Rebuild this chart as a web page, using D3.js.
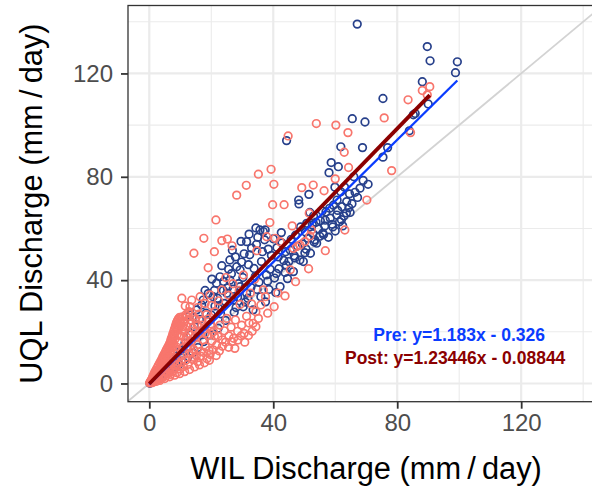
<!DOCTYPE html>
<html>
<head>
<meta charset="utf-8">
<script src="https://cdn.jsdelivr.net/npm/d3@7"></script>
<style>
  body { margin: 0; background: #fff; }
  svg { display: block; font-family: "Liberation Sans", Arial, sans-serif; }
</style>
</head>
<body>
<svg id="chart" width="592" height="489"></svg>
<script>
// pre period points (WIL, UQL)
var prePoints = [
  [0.2,0.1],[0.5,0.4],[0.9,0.6],[1.3,1.1],[1.7,1.4],[2.2,1.9],[2.6,2.6],[3.0,2.2],[3.5,3.4],[4.0,2.9],
  [4.4,4.6],[5.0,3.9],[5.4,6.0],[6.0,4.6],[6.4,7.6],[7.0,5.4],[7.5,9.0],[8.2,6.2],[8.8,10.6],[9.5,7.4],
  [10.1,12.8],[10.8,8.6],[11.5,15.6],[12.1,25.9],[12.4,10.0],[13.1,26.5],[13.3,18.8],[14.0,11.8],[14.6,22.0],[15.3,28.5],
  [15.7,13.9],[16.2,24.8],[16.9,30.4],[17.4,32.3],[17.5,16.2],[18.3,27.2],[19.0,34.8],[19.6,18.8],[20.6,33.6],[21.2,30.0],
  [21.7,38.8],[22.2,21.4],[22.8,29.7],[22.8,41.3],[23.9,36.0],[24.6,24.4],[25.0,34.9],[25.6,44.2],[26.0,40.0],[26.0,47.8],
  [27.1,32.3],[27.4,27.6],[28.2,45.2],[28.8,38.6],[29.3,43.9],[29.3,37.5],[30.3,29.7],[30.6,50.2],[31.4,34.9],[31.4,54.9],
  [32.0,46.0],[33.0,52.4],[33.5,28.5],[34.2,41.4],[35.0,56.6],[35.7,59.4],[36.2,47.2],[36.8,58.8],[37.5,31.6],[38.4,52.0],
  [39.0,44.2],[40.0,56.0],[40.8,35.2],[41.6,49.0],[42.2,37.5],[42.8,54.4],[43.4,47.6],[44.3,94.0],[44.6,40.6],[45.5,51.6],
  [46.5,43.3],[47.2,57.4],[48.2,71.0],[48.3,69.5],[48.6,47.8],[49.7,47.2],[50.4,58.6],[50.8,62.0],[51.5,73.2],[52.0,50.4],
  [52.6,61.4],[53.0,64.8],[53.4,55.6],[54.0,54.3],[54.6,59.8],[55.2,63.0],[56.0,58.2],[56.6,61.0],[57.0,66.4],[57.8,56.6],
  [58.0,81.6],[58.4,64.0],[58.7,85.5],[59.0,61.6],[59.9,76.0],[60.0,59.0],[60.5,65.2],[60.6,71.0],[61.0,83.9],[61.4,62.6],
  [61.8,91.6],[62.2,68.4],[62.8,64.8],[63.0,76.0],[63.7,70.4],[64.4,68.0],[65.5,102.5],[66.0,80.0],[67.1,139.1],[68.0,75.6],
  [68.8,91.3],[69.6,101.2],[70.6,77.1],[75.4,110.3],[75.4,87.6],[76.9,91.3],[83.9,97.8],[85.2,104.0],[85.8,104.5],[88.1,116.8],
  [89.7,130.4],[90.0,108.2],[90.6,124.9],[98.8,120.3],[99.4,124.5],
  [20.0,26.5],[21.0,36.0],[22.0,33.0],[23.0,27.0],[24.0,39.5],[24.2,31.0],[25.2,37.0],[26.5,42.5],[27.0,36.5],[27.8,49.0],
  [28.5,33.5],[29.8,47.0],[30.2,41.0],[31.0,31.5],[32.4,49.8],[32.8,37.2],[33.8,44.5],[34.6,53.8],[35.4,39.2],[36.0,33.6],
  [36.5,51.0],[37.2,55.6],[37.8,42.0],[38.6,36.4],[39.4,49.6],[40.4,40.8],[41.2,52.6],[41.8,44.4],[42.6,58.4],[43.8,43.0],
  [44.0,51.0],[45.0,47.2],[45.8,55.8],[46.8,49.4],[47.8,53.2],[48.8,60.6],[49.4,54.0],[50.2,50.6],[51.2,56.2],[51.8,66.2],
  [52.8,58.0],[53.8,62.4],[55.0,57.0],[55.8,66.8],[56.8,63.2],[58.2,67.8],[59.4,69.0],[60.8,67.0],[61.8,74.2],[62.4,61.0],
  [63.6,66.0],[64.6,73.4],[65.4,69.6],[66.4,74.0],[67.2,72.0],[69.0,78.6],
  [28.0,29.4],[31.8,33.0],[34.8,36.4],[38.2,39.6],[41.0,42.6],[44.2,45.8],[47.0,48.6],[50.6,52.0],[53.2,54.8],[56.2,57.6],
  [59.2,60.6],[62.0,63.4],[64.8,66.2],
  [18.0,36.0],[20.2,40.4],[23.4,45.6],[26.8,51.6],[29.6,55.0],[32.2,57.8],[34.4,60.2],[37.4,59.4]
];

// post period points (WIL, UQL)
var postPoints = [
  [0.1,0.2],[0.3,0.6],[0.4,0.3],[0.6,1.1],[0.7,0.5],[0.9,1.8],[1.0,0.8],[1.1,2.6],[1.2,1.2],[1.4,3.4],
  [1.5,0.9],[1.6,2.1],[1.7,4.2],[1.9,1.3],[2.0,3.0],[2.1,5.1],[2.3,1.8],[2.4,3.9],[2.5,6.0],[2.7,2.4],
  [2.8,4.8],[2.9,6.9],[3.1,1.6],[3.2,3.5],[3.3,7.8],[3.4,5.6],[3.6,2.5],[3.7,8.7],[3.8,4.3],[3.9,6.6],
  [4.1,9.6],[4.2,2.2],[4.3,5.2],[4.4,10.4],[4.5,7.5],[4.7,3.3],[4.8,11.3],[4.9,6.0],[5.0,8.6],[5.2,12.2],
  [5.3,2.9],[5.4,4.4],[5.5,13.0],[5.6,9.8],[5.7,7.0],[5.9,13.9],[6.0,3.8],[6.1,11.0],[6.2,5.4],[6.3,14.8],
  [6.5,8.3],[6.6,15.6],[6.7,12.4],[6.8,3.5],[6.9,16.5],[7.0,6.4],[7.1,17.4],[7.2,10.2],[7.3,13.8],[7.4,18.3],
  [7.5,4.6],[7.6,19.2],[7.7,8.0],[7.8,15.4],[7.9,20.1],[8.0,11.8],[8.1,21.0],[8.2,5.8],[8.3,17.2],[8.4,22.0],
  [8.5,9.4],[8.6,22.8],[8.7,14.2],[8.8,23.6],[8.9,4.2],[9.0,19.0],[9.1,24.4],[9.2,7.4],[9.3,12.6],[9.4,25.0],
  [9.5,21.3],[9.6,16.0],[9.8,25.6],[9.9,10.6],[10.0,5.6],[10.1,23.0],[10.3,18.4],[10.4,8.4],[10.5,33.0],[10.6,13.8],
  [10.7,25.8],[10.9,20.6],[11.0,6.6],[11.2,11.2],[11.4,24.0],[11.6,16.8],[11.8,9.0],[12.0,22.2],[12.1,25.9],[12.3,14.4],
  [12.5,7.4],[12.7,19.4],[12.9,11.6],[13.1,29.7],[13.2,24.6],[13.4,16.2],[13.7,32.3],[13.8,9.4],[14.0,21.4],[14.3,13.2],
  [14.4,50.4],[14.6,18.0],[14.9,25.0],[15.2,10.8],[15.5,22.8],[15.8,15.0],[16.2,19.6],[16.4,33.6],[16.6,12.4],[17.0,24.4],
  [17.3,16.8],[17.6,56.2],[17.7,21.0],[18.1,14.2],[18.5,26.6],[18.9,18.6],[19.0,44.8],[19.3,12.8],[19.6,34.3],[19.8,23.0],
  [20.2,16.4],[20.7,20.0],[21.0,51.0],[21.2,27.8],[21.5,63.3],[21.7,14.8],[22.2,18.2],[22.8,22.6],[23.4,36.2],[23.4,55.3],
  [23.6,16.9],[24.2,20.4],[24.7,41.0],[25.0,25.2],[25.2,55.9],[25.7,18.4],[26.4,21.8],[26.7,53.3],[27.2,17.5],[27.8,24.6],
  [28.2,72.9],[28.5,20.2],[29.3,30.6],[29.8,22.6],[30.6,19.4],[31.3,76.7],[31.4,26.0],[32.2,23.4],[33.0,30.8],[33.5,23.3],
  [34.4,27.8],[34.7,51.4],[35.2,25.2],[35.2,81.0],[36.0,30.4],[36.8,36.2],[37.5,33.6],[37.9,56.8],[38.2,27.2],[38.9,62.3],
  [39.3,82.9],[39.8,69.2],[40.2,77.1],[40.3,29.7],[40.6,56.2],[41.5,35.0],[42.2,54.9],[43.5,69.2],[43.8,33.9],[44.8,95.8],
  [45.5,44.0],[46.1,61.0],[46.5,52.3],[47.2,39.4],[47.5,53.0],[48.6,53.6],[49.2,75.8],[50.2,54.9],[51.4,44.4],[51.6,65.9],
  [51.8,57.1],[52.3,59.4],[52.9,76.8],[53.9,100.6],[56.4,74.6],[56.8,51.4],[60.0,79.2],[60.2,100.0],[62.9,89.5],[63.1,59.4],
  [64.1,97.1],[64.3,83.6],[70.2,71.0],[75.8,102.8],[78.2,82.4],[83.5,109.8],[84.3,97.1],[88.1,113.4],[89.7,111.7],[90.5,114.9],
  [0.5,0.9],[0.8,1.4],[1.3,1.9],[1.8,2.8],[2.2,3.4],[2.6,4.4],[3.0,5.0],[3.5,6.0],[3.9,7.4],[4.3,8.0],
  [4.6,9.0],[5.0,10.2],[5.4,11.0],[5.8,12.0],[6.2,13.0],[6.6,14.0],[7.0,15.0],[7.4,16.2],[7.8,17.6],[8.2,18.8],
  [8.6,20.0],[9.0,21.4],[9.4,22.6],[9.8,24.0],[10.2,24.8],[10.8,22.0],[11.4,20.0],[12.0,18.0],[12.6,16.0],[13.2,14.0],
  [13.8,12.0],[14.6,10.0],[15.6,8.4],[16.6,10.6],[17.6,12.0],[18.6,9.6],[19.6,11.2],[20.6,13.0],[21.6,10.8],[22.6,12.6],
  [23.6,14.4],[24.6,16.0],[25.6,14.0],[26.6,16.2],[27.6,13.6],[28.6,16.8],[29.6,18.4],[30.8,16.0],[32.0,18.6],[33.2,20.2],
  [34.4,22.0],[11.8,26.6],[12.6,27.4],[13.4,23.0],[14.2,26.0],[15.0,20.0],[16.0,26.8],[17.0,22.6],[18.0,19.4],[19.0,25.0],
  [20.0,22.0],[21.0,18.4],[3.4,1.2],[5.0,1.9],[6.6,2.6],[8.2,3.2],[9.8,3.8],[11.4,4.6],[13.0,5.4],[14.6,6.4],
  [16.2,7.2],[17.8,8.0],[19.4,9.0],[1.0,0.3],[2.2,0.8],
  [11.6,30.0],[12.8,27.8],[15.6,29.4],[18.0,31.0],[20.0,30.2],[22.4,32.0],[25.6,34.2],[27.0,38.6],[29.0,36.0],[30.4,42.0],
  [32.6,35.0],[34.0,40.4]
];

// fitted lines: [slope, intercept]
var preFit = [1.183, -0.326];
var postFit = [1.23446, -0.08844];
var fitLabels = ["Pre: y=1.183x - 0.326", "Post: y=1.23446x - 0.08844"];
var labelPos = [[100.0, 18.8], [98.7, 9.8]];

var majorTicks = [0, 40, 80, 120];
var minorTicks = [20, 60, 100, 140];

var svg = d3.select("#chart");
var pLeft = 128, pTop = 5.5, pRight = 603, pBottom = 401.7;

var x = d3.scaleLinear().domain([-6.87, 146.4]).range([pLeft, pRight]);
var y = d3.scaleLinear().domain([-7.05, 146.3]).range([pBottom, pTop]);

svg.append("defs").append("clipPath").attr("id", "clip")
  .append("rect").attr("x", pLeft).attr("y", pTop).attr("width", pRight - pLeft).attr("height", pBottom - pTop);

var panel = svg.append("g").attr("clip-path", "url(#clip)");

// grid
panel.selectAll(".minx").data(minorTicks).enter().append("line")
  .attr("x1", function(d){ return x(d); }).attr("x2", function(d){ return x(d); })
  .attr("y1", pTop).attr("y2", pBottom).attr("stroke", "#ebebeb").attr("stroke-width", 1.1);
panel.selectAll(".miny").data(minorTicks).enter().append("line")
  .attr("y1", function(d){ return y(d); }).attr("y2", function(d){ return y(d); })
  .attr("x1", pLeft).attr("x2", pRight).attr("stroke", "#ebebeb").attr("stroke-width", 1.1);
panel.selectAll(".majx").data(majorTicks).enter().append("line")
  .attr("x1", function(d){ return x(d); }).attr("x2", function(d){ return x(d); })
  .attr("y1", pTop).attr("y2", pBottom).attr("stroke", "#ebebeb").attr("stroke-width", 2.2);
panel.selectAll(".majy").data(majorTicks).enter().append("line")
  .attr("y1", function(d){ return y(d); }).attr("y2", function(d){ return y(d); })
  .attr("x1", pLeft).attr("x2", pRight).attr("stroke", "#ebebeb").attr("stroke-width", 2.2);

// 1:1 line
panel.append("line")
  .attr("x1", x(-10)).attr("y1", y(-10)).attr("x2", x(150)).attr("y2", y(150))
  .attr("stroke", "#d3d3d3").attr("stroke-width", 1.8);

// points
panel.selectAll(".pre").data(prePoints).enter().append("circle")
  .attr("cx", function(d){ return x(d[0]); }).attr("cy", function(d){ return y(d[1]); })
  .attr("r", 3.8).attr("fill", "none").attr("stroke", "#27408b").attr("stroke-width", 1.7);
panel.selectAll(".post").data(postPoints).enter().append("circle")
  .attr("cx", function(d){ return x(d[0]); }).attr("cy", function(d){ return y(d[1]); })
  .attr("r", 3.8).attr("fill", "none").attr("stroke", "#f8766d").attr("stroke-width", 1.7);

// regression lines
function fitLine(fit, pts, color, w){
  var xmax = d3.max(pts, function(d){ return d[0]; });
  panel.append("line")
    .attr("x1", x(0)).attr("y1", y(fit[1]))
    .attr("x2", x(xmax)).attr("y2", y(fit[0] * xmax + fit[1]))
    .attr("stroke", color).attr("stroke-width", w).attr("stroke-linecap", "butt");
}
fitLine(preFit, prePoints, "#0a3cff", 2.3);
fitLine(postFit, postPoints, "#8b0000", 3.8);

// annotations
svg.selectAll(".lab").data(fitLabels).enter().append("text")
  .attr("x", function(d, i){ return x(labelPos[i][0]); })
  .attr("y", function(d, i){ return y(labelPos[i][1]); })
  .attr("dy", "0.35em").attr("text-anchor", "middle")
  .attr("font-size", 17.5).attr("font-weight", "bold")
  .attr("fill", function(d, i){ return i == 0 ? "#0a3cff" : "#8b0000"; })
  .text(function(d){ return d; });

// border
svg.append("rect").attr("x", pLeft).attr("y", pTop).attr("width", pRight - pLeft).attr("height", pBottom - pTop)
  .attr("fill", "none").attr("stroke", "#333333").attr("stroke-width", 1.3);

// axes
var xAxis = svg.append("g").attr("transform", "translate(0," + pBottom + ")")
  .call(d3.axisBottom(x).tickValues(majorTicks).tickSize(7).tickPadding(12));
var yAxis = svg.append("g").attr("transform", "translate(" + pLeft + ",0)")
  .call(d3.axisLeft(y).tickValues(majorTicks).tickSize(7).tickPadding(8));
[xAxis, yAxis].forEach(function(a){
  a.select(".domain").remove();
  a.selectAll(".tick line").attr("stroke", "#333333").attr("stroke-width", 1.8);
  a.selectAll(".tick text").attr("fill", "#4d4d4d").attr("font-size", 24)
    .attr("font-family", "Liberation Sans, Arial, sans-serif");
});
xAxis.selectAll(".tick text").attr("dy", "0.71em").attr("y", 12);

// axis titles
svg.append("text").attr("x", 366).attr("y", 479)
  .attr("text-anchor", "middle").attr("font-size", 30.8).attr("fill", "#000")
  .text("WIL Discharge (mm\u2009/\u2009day)");
svg.append("text").attr("transform", "translate(42," + ((pTop + pBottom) / 2) + ") rotate(-90)")
  .attr("text-anchor", "middle").attr("font-size", 30.8).attr("fill", "#000")
  .text("UQL Discharge (mm\u2009/\u2009day)");
</script>
</body>
</html>
